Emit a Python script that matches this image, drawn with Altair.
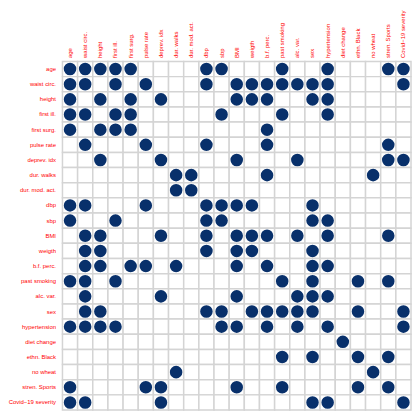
import altair as alt
import pandas as pd

labels = ["age", "waist circ.", "height", "first ill.", "first surg.", "pulse rate",
          "deprev. idx", "dur. walks", "dur. mod. act.", "dbp", "sbp", "BMI", "weigth",
          "b.f. perc.", "past smoking", "alc. var.", "sex", "hypertension", "diet change",
          "ethn. Black", "no wheat", "stren. Sports", "Covid\u221219 severity"]

# indices of columns marked for each row
marked = [
    [0, 1, 2, 3, 4, 9, 10, 14, 17, 21, 22],
    [0, 1, 3, 5, 9, 11, 12, 13, 14, 15, 16, 17, 22],
    [0, 2, 4, 6, 11, 12, 13, 16, 17],
    [0, 1, 3, 4, 10, 14, 17],
    [0, 2, 3, 4, 13],
    [1, 5, 9, 13, 21],
    [2, 6, 11, 15, 21, 22],
    [7, 8, 13, 20],
    [7, 8],
    [0, 1, 5, 9, 10, 11, 12, 16],
    [0, 3, 9, 10, 16, 17],
    [1, 2, 6, 9, 11, 12, 13, 15, 17, 21],
    [1, 2, 9, 11, 12, 16],
    [1, 2, 4, 5, 7, 11, 13, 16, 17],
    [0, 1, 3, 14, 16, 19, 21],
    [1, 6, 11, 15, 16, 17],
    [1, 2, 9, 10, 12, 13, 14, 15, 16, 19, 22],
    [0, 1, 2, 3, 10, 11, 13, 15, 17, 22],
    [18],
    [14, 16, 19, 21],
    [7, 20],
    [0, 5, 6, 11, 14, 19, 21],
    [0, 1, 6, 16, 17, 22],
]

cells = []
for i, r in enumerate(labels):
    for j, c in enumerate(labels):
        cells.append({"row": r, "col": c, "on": j in marked[i]})
df = pd.DataFrame(cells)

x = alt.X("col:N", sort=labels, title=None,
          axis=alt.Axis(orient="top", labelAngle=-90, labelColor="red", labelFontSize=6,
                        labelFont="Liberation Sans", ticks=False, domain=False,
                        labelPadding=4, labelAlign="left", labelBaseline="middle"))
y = alt.Y("row:N", sort=labels, title=None,
          axis=alt.Axis(labelColor="red", labelFontSize=6, labelFont="Liberation Sans",
                        ticks=False, domain=False, labelPadding=7))

grid = alt.Chart(df).mark_rect(fill="white", stroke="#d4d4d4", strokeWidth=1.5).encode(
    x=x, y=y)

dots = alt.Chart(df).transform_filter("datum.on").mark_circle(
    color="#08306B", opacity=1, size=160).encode(x=x, y=y)

chart = (grid + dots).properties(
    width=408, height=405, padding=0,
    autosize=alt.AutoSizeParams(type="fit", contains="padding"),
).configure_view(stroke=None).configure_scale(bandPaddingInner=0, bandPaddingOuter=0)

chart.save("out.html", embed_options={"renderer": "svg", "actions": False})
